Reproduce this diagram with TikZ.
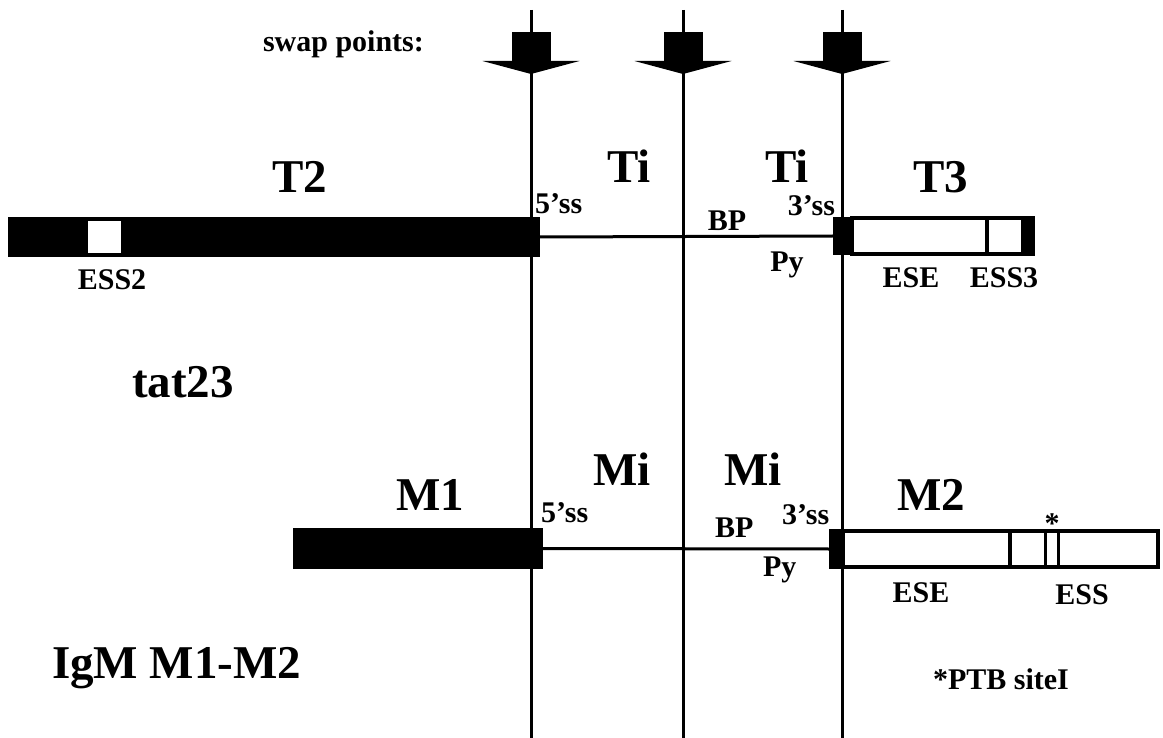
\documentclass[tikz,border=0pt]{standalone}
\usepackage{fontspec}
\setmainfont{Liberation Serif}
\begin{document}
\begin{tikzpicture}[x=1pt,y=-1pt,
  lbl/.style={inner sep=0,outer sep=0,font=\fontsize{30}{32}\selectfont\bfseries},
  big/.style={inner sep=0,outer sep=0,font=\fontsize{47}{50}\selectfont\bfseries},
  blk/.style={fill=black,draw=none,inner sep=0,outer sep=0},
  wht/.style={fill=white,draw=none,inner sep=0,outer sep=0},
  obox/.style={draw=black,fill=white,line width=4pt,inner sep=0,outer sep=0},
  vline/.style={line width=3pt},
  hline/.style={line width=3pt}]
\useasboundingbox (0,0) rectangle (1163,738);

% swap lines with arrows
\foreach \n/\x in {a/531,b/683,c/842}{
  \coordinate (top\n) at (\x,10);
  \coordinate (bot\n) at (\x,738);
  \draw[vline] (top\n) -- (bot\n);
  \fill (\x-19.5,32) rectangle (\x+19.5,61);
  \fill (\x-48.5,61) -- (\x+48.5,61) -- (\x,74) -- cycle;
}
\node[lbl,anchor=base west] (swap) at (263,52) {swap points:};

% ---- tat23 ----
\node[blk,minimum width=532,minimum height=40] (t2bar) at (274,237) {};
\node[wht,minimum width=33,minimum height=32] (ess2box) at (104.5,237) {};
\node[blk,minimum width=19,minimum height=38] (t3a) at (842.5,236) {};
\node[obox,minimum width=171,minimum height=36] (t3box) at (937.5,236) {};
\node[blk,minimum width=12,minimum height=40] (t3b) at (1029,236) {};
\draw[line width=4pt] (987,218) -- (987,254);
\draw[hline] (t2bar.east) -- (t3a.west);

\node[big,anchor=base west] (lT2) at (272,193) {T2};
\node[big,anchor=base west] (lTi1) at (607,183) {Ti};
\node[big,anchor=base west] (lTi2) at (765,183) {Ti};
\node[big,anchor=base west] (lT3) at (913,193) {T3};
\node[lbl,anchor=base west] (t5ss) at (535,214) {5’ss};
\node[lbl,anchor=base] (tBP) at (727,231) {BP};
\node[lbl,anchor=base east] (t3ss) at (835,216) {3’ss};
\node[lbl,anchor=base] (tPy) at (787,272) {Py};
\node[lbl,anchor=base] (lESS2) at (112,290) {ESS2};
\node[lbl,anchor=base] (tESE) at (911,288) {ESE};
\node[lbl,anchor=base] (lESS3) at (1004,288) {ESS3};
\node[big,anchor=base west] (ltat) at (132,397) {tat23};

% ---- IgM ----
\node[blk,minimum width=250,minimum height=41] (m1bar) at (418,548.5) {};
\node[blk,minimum width=14,minimum height=40] (m2a) at (836,549) {};
\node[obox,minimum width=315,minimum height=36] (m2box) at (1000.5,549) {};
\draw[line width=4pt] (1010,531) -- (1010,567);
\node[draw=black,line width=3pt,inner sep=0,minimum width=13,minimum height=36] (essbox) at (1051.5,549) {};
\draw[hline] (m1bar.east) -- (m2a.west);

\node[big,anchor=base west] (lM1) at (396,510) {M1};
\node[big,anchor=base west] (lMi1) at (593,485) {Mi};
\node[big,anchor=base west] (lMi2) at (724,485) {Mi};
\node[big,anchor=base west] (lM2) at (897,510) {M2};
\node[lbl,anchor=base west] (m5ss) at (541,522) {5’ss};
\node[lbl,anchor=base west] (mBP) at (715,537) {BP};
\node[lbl,anchor=base west] (m3ss) at (782,524) {3’ss};
\node[lbl,anchor=base west] (mPy) at (763,576) {Py};
\node[lbl,anchor=base] (ast) at (1052,533) {*};
\node[lbl,anchor=base] (mESE) at (921,602) {ESE};
\node[lbl,anchor=base] (mESS) at (1082,604) {ESS};
\node[big,anchor=base west] (ligm) at (52,678) {IgM M1-M2};
\node[lbl,anchor=base west] (lptb) at (933,689) {*PTB siteI};
\end{tikzpicture}
\end{document}
